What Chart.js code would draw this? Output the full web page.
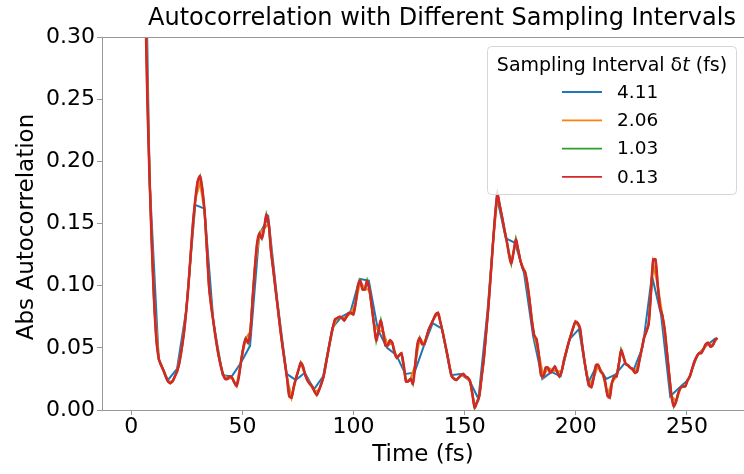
<!DOCTYPE html>
<html>
<head>
<meta charset="utf-8">
<script src="https://cdn.jsdelivr.net/npm/chart.js@4.4.1/dist/chart.umd.min.js"></script>
<style>
  html, body { margin: 0; padding: 0; background: #fff; }
  canvas { display: block; }
</style>
</head>
<body>
<canvas id="chart" width="744" height="474"></canvas>
<script>
// sampling intervals (fs) and their legend labels
const intervals = [4.11, 2.06, 1.03, 0.13];
const seriesLabels = ['4.11', '2.06', '1.03', '0.13'];
const colors = ['#1f77b4', '#ff7f0e', '#2ca02c', '#d62728'];
const xTicks = [0, 50, 100, 150, 200, 250];
const yTicks = [0, 0.05, 0.10, 0.15, 0.20, 0.25, 0.30];

// |autocorrelation|, one value per sample
const abs411 = [
  1.0, 0.62, 0.185, 0.041, 0.024, 0.033, 0.080, 0.165, 0.162, 0.070,
  0.028, 0.027, 0.038, 0.0516, 0.141, 0.155, 0.087, 0.029, 0.0242, 0.030,
  0.0166, 0.027, 0.066, 0.075, 0.079, 0.1055, 0.104, 0.0645, 0.050, 0.0443,
  0.029, 0.030, 0.051, 0.0698, 0.0655, 0.028, 0.029, 0.024, 0.009, 0.080,
  0.172, 0.138, 0.1345, 0.110, 0.059, 0.025, 0.0306, 0.027, 0.057, 0.065,
  0.0215, 0.0363, 0.025, 0.0285, 0.0376, 0.0323, 0.051, 0.108, 0.0765, 0.011,
  0.018, 0.0245, 0.0445, 0.052, 0.0578
];

const abs206 = [
  1.0, 0.89, 0.62, 0.345, 0.185, 0.085, 0.041, 0.032, 0.023, 0.023,
  0.031, 0.049, 0.080, 0.127, 0.170, 0.183, 0.160, 0.098, 0.069, 0.045,
  0.029, 0.025, 0.026, 0.0195, 0.040, 0.0575, 0.063, 0.115, 0.142, 0.146,
  0.150, 0.113, 0.082, 0.052, 0.026, 0.010, 0.026, 0.038, 0.028, 0.021,
  0.015, 0.016, 0.027, 0.047, 0.066, 0.074, 0.074, 0.075, 0.078, 0.086,
  0.104, 0.097, 0.097, 0.069, 0.064, 0.063, 0.052, 0.054, 0.042, 0.0455,
  0.023, 0.025, 0.036, 0.058, 0.053, 0.065, 0.073, 0.078, 0.063, 0.045,
  0.027, 0.0242, 0.028, 0.027, 0.023, 0.002, 0.011, 0.041, 0.083, 0.134,
  0.173, 0.155, 0.136, 0.118, 0.137, 0.120, 0.111, 0.088, 0.060, 0.045,
  0.027, 0.034, 0.032, 0.031, 0.031, 0.047, 0.060, 0.071, 0.066, 0.039,
  0.020, 0.026, 0.036, 0.029, 0.012, 0.022, 0.027, 0.048, 0.037, 0.034,
  0.030, 0.040, 0.058, 0.069, 0.118, 0.100, 0.076, 0.047, 0.011, 0.007,
  0.018, 0.019, 0.027, 0.039, 0.0457, 0.049, 0.054, 0.052, 0.058
];

const abs103 = [
  1.0, 0.97, 0.89, 0.77, 0.62, 0.47, 0.345, 0.25, 0.185, 0.13,
  0.085, 0.055, 0.041, 0.036, 0.032, 0.027, 0.023, 0.0215, 0.023, 0.027,
  0.031, 0.038, 0.049, 0.062, 0.080, 0.101, 0.127, 0.152, 0.170, 0.184,
  0.188, 0.178, 0.160, 0.130, 0.098, 0.082, 0.069, 0.056, 0.045, 0.036,
  0.029, 0.025, 0.025, 0.027, 0.026, 0.022, 0.0195, 0.027, 0.040, 0.051,
  0.0575, 0.054, 0.063, 0.090, 0.115, 0.135, 0.142, 0.138, 0.146, 0.157,
  0.150, 0.128, 0.113, 0.097, 0.082, 0.066, 0.052, 0.039, 0.026, 0.011,
  0.010, 0.019, 0.026, 0.032, 0.038, 0.035, 0.028, 0.0235, 0.021, 0.019,
  0.015, 0.012, 0.016, 0.021, 0.027, 0.037, 0.047, 0.057, 0.066, 0.073,
  0.074, 0.075, 0.074, 0.072, 0.075, 0.078, 0.078, 0.077, 0.086, 0.100,
  0.104, 0.097, 0.097, 0.104, 0.097, 0.084, 0.069, 0.056, 0.064, 0.072,
  0.063, 0.052, 0.052, 0.056, 0.054, 0.046, 0.042, 0.044, 0.0455, 0.036,
  0.023, 0.023, 0.025, 0.021, 0.036, 0.053, 0.058, 0.053, 0.053, 0.059,
  0.065, 0.069, 0.073, 0.077, 0.078, 0.071, 0.063, 0.054, 0.045, 0.035,
  0.027, 0.025, 0.0242, 0.026, 0.028, 0.029, 0.027, 0.026, 0.023, 0.013,
  0.002, 0.006, 0.011, 0.026, 0.041, 0.062, 0.083, 0.108, 0.134, 0.158,
  0.173, 0.164, 0.155, 0.145, 0.136, 0.125, 0.118, 0.127, 0.137, 0.129,
  0.120, 0.114, 0.111, 0.102, 0.088, 0.071, 0.060, 0.057, 0.045, 0.028,
  0.027, 0.034, 0.034, 0.030, 0.032, 0.035, 0.031, 0.027, 0.031, 0.040,
  0.047, 0.054, 0.060, 0.066, 0.071, 0.070, 0.066, 0.052, 0.039, 0.028,
  0.020, 0.0185, 0.026, 0.036, 0.036, 0.031, 0.029, 0.023, 0.012, 0.010,
  0.022, 0.027, 0.027, 0.037, 0.048, 0.043, 0.037, 0.036, 0.034, 0.033,
  0.030, 0.031, 0.040, 0.049, 0.058, 0.063, 0.069, 0.094, 0.121, 0.121,
  0.100, 0.082, 0.076, 0.065, 0.047, 0.028, 0.011, 0.003, 0.007, 0.014,
  0.018, 0.019, 0.019, 0.024, 0.027, 0.033, 0.039, 0.043, 0.0457, 0.0457,
  0.049, 0.053, 0.054, 0.051, 0.052, 0.056, 0.058
];

// the 0.13 fs trace is too dense to read point by point; it is read at ~1 fs
// and drawn as a smooth curve on top
const absFine = abs103;
const fineStep = 1.03;

const X_MIN = -13.2, X_MAX = 275.7;
const FONT = 'DejaVu Sans';

function toPoints(values, dt) {
    return values.map((v, i) => ({x: +(i * dt).toFixed(3), y: v}));
}

const decor = {
    id: 'decor',
    afterDraw(chart) {
        const ctx = chart.ctx;
        const a = chart.chartArea;
        ctx.save();

        // top spine
        ctx.strokeStyle = '#999';
        ctx.lineWidth = 1;
        ctx.beginPath();
        ctx.moveTo(a.left, a.top + 0.5);
        ctx.lineTo(a.right, a.top + 0.5);
        ctx.stroke();

        ctx.fillStyle = '#000';
        ctx.textAlign = 'center';
        ctx.textBaseline = 'middle';

        ctx.font = `24px ${FONT}`;
        ctx.fillText('Autocorrelation with Different Sampling Intervals', 442, 19);

        ctx.font = `23px ${FONT}`;
        ctx.fillText('Time (fs)', 423, 455);

        ctx.save();
        ctx.translate(27, 227);
        ctx.rotate(-Math.PI / 2);
        ctx.fillText('Abs Autocorrelation', 0, 0);
        ctx.restore();

        drawLegend(ctx);
        ctx.restore();
    }
};

function drawLegend(ctx) {
    const bx = 487.5, by = 46.5, bw = 249, bh = 148;
    ctx.beginPath();
    if (ctx.roundRect) ctx.roundRect(bx, by, bw, bh, 4);
    else ctx.rect(bx, by, bw, bh);
    ctx.fillStyle = 'rgba(255,255,255,0.8)';
    ctx.fill();
    ctx.strokeStyle = '#d6d6d6';
    ctx.lineWidth = 1;
    ctx.stroke();

    // title, with an italic t
    const parts = [
        ['Sampling Interval ', `19px ${FONT}`],
        ['\u03b4', `19px ${FONT}`],
        ['t', `italic 19px ${FONT}`],
        [' (fs)', `19px ${FONT}`]
    ];
    let total = 0;
    parts.forEach(p => { ctx.font = p[1]; total += ctx.measureText(p[0]).width; });
    let x = bx + bw / 2 - total / 2;
    ctx.fillStyle = '#000';
    ctx.textAlign = 'left';
    ctx.textBaseline = 'middle';
    parts.forEach(p => {
        ctx.font = p[1];
        ctx.fillText(p[0], x, 66);
        x += ctx.measureText(p[0]).width;
    });

    ctx.font = `18.5px ${FONT}`;
    seriesLabels.forEach((lab, i) => {
        const y = 92 + i * 28.3;
        ctx.strokeStyle = colors[i];
        ctx.lineWidth = 1.8;
        ctx.beginPath();
        ctx.moveTo(562, y);
        ctx.lineTo(602, y);
        ctx.stroke();
        ctx.fillText(lab, 617, y + 1);
    });
}

const ctx = document.getElementById('chart').getContext('2d');
const chart = new Chart(ctx, {
    type: 'line',
    data: {
        datasets: [{
            label: seriesLabels[0],
            data: toPoints(abs411, intervals[0]),
            borderColor: colors[0],
            borderWidth: 2,
            order: 3
        }, {
            label: seriesLabels[1],
            data: toPoints(abs206, intervals[1]),
            borderColor: colors[1],
            borderWidth: 2.2,
            order: 2
        }, {
            label: seriesLabels[2],
            data: toPoints(abs103, intervals[2]),
            borderColor: colors[2],
            borderWidth: 2.2,
            order: 1
        }, {
            label: seriesLabels[3],
            data: toPoints(absFine, fineStep),
            borderColor: colors[3],
            borderWidth: 2.5,
            tension: 0.35,
            order: 0
        }]
    },
    options: {
        responsive: false,
        animation: false,
        devicePixelRatio: 1,
        layout: {padding: {top: 37, right: 0, bottom: 0, left: 0}},
        elements: {point: {radius: 0}, line: {fill: false}},
        plugins: {
            legend: {display: false},
            tooltip: {enabled: false},
            title: {display: false}
        },
        scales: {
            x: {
                type: 'linear',
                min: X_MIN,
                max: X_MAX,
                afterBuildTicks: s => { s.ticks = xTicks.map(v => ({value: v})); },
                afterFit: s => { s.height = 64; },
                ticks: {
                    font: {family: FONT, size: 22},
                    color: '#000',
                    padding: -1,
                    maxRotation: 0,
                    callback: v => String(v)
                },
                grid: {drawOnChartArea: false, drawTicks: true, tickLength: 5, color: '#999'},
                border: {color: '#999', width: 1}
            },
            y: {
                min: 0,
                max: 0.3,
                afterBuildTicks: s => { s.ticks = yTicks.map(v => ({value: v})); },
                afterFit: s => { s.width = 102; },
                ticks: {
                    font: {family: FONT, size: 22},
                    color: '#000',
                    padding: 2,
                    callback: v => v.toFixed(2)
                },
                grid: {drawOnChartArea: false, drawTicks: true, tickLength: 5, color: '#999'},
                border: {color: '#999', width: 1}
            }
        }
    },
    plugins: [decor]
});
</script>
</body>
</html>
